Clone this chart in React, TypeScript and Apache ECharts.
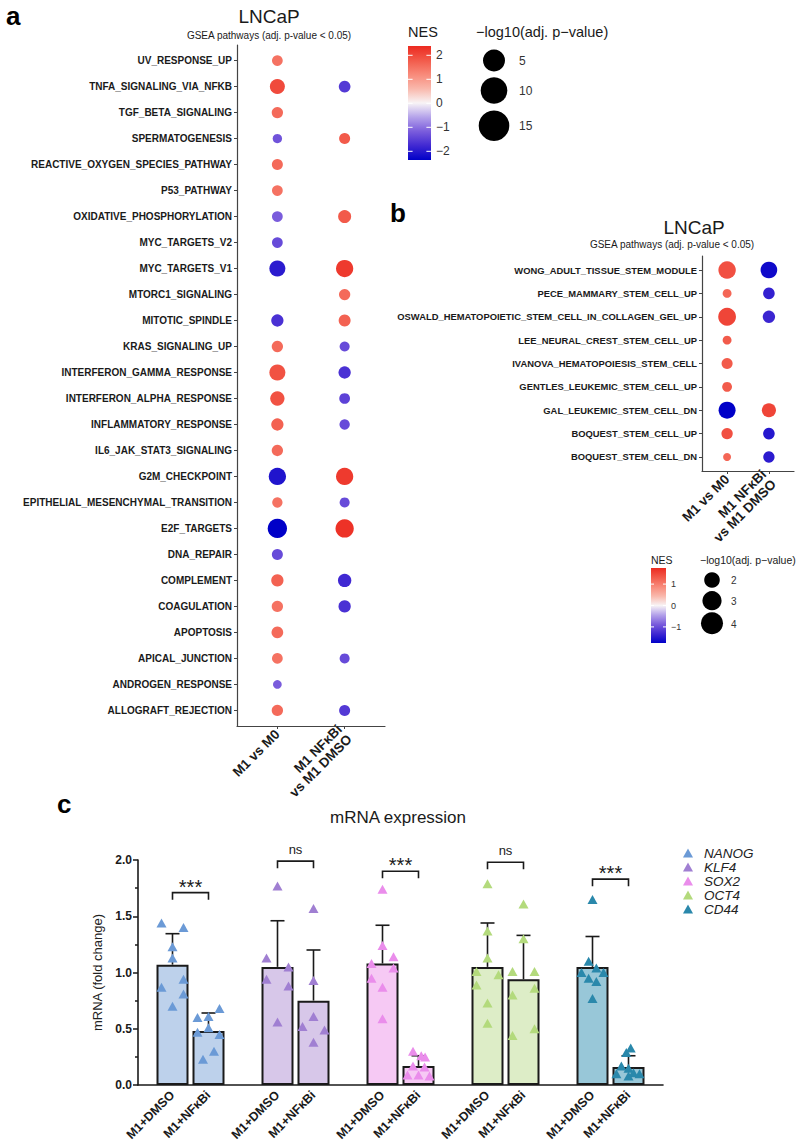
import React, { useEffect, useRef } from 'react';
import * as echarts from 'echarts';

const FONT = '"Liberation Sans", Arial, Helvetica, sans-serif';

// ---------------- Panel a data ----------------
const pathwaysA = [
  'UV_RESPONSE_UP', 'TNFA_SIGNALING_VIA_NFKB', 'TGF_BETA_SIGNALING', 'SPERMATOGENESIS',
  'REACTIVE_OXYGEN_SPECIES_PATHWAY', 'P53_PATHWAY', 'OXIDATIVE_PHOSPHORYLATION', 'MYC_TARGETS_V2',
  'MYC_TARGETS_V1', 'MTORC1_SIGNALING', 'MITOTIC_SPINDLE', 'KRAS_SIGNALING_UP',
  'INTERFERON_GAMMA_RESPONSE', 'INTERFERON_ALPHA_RESPONSE', 'INFLAMMATORY_RESPONSE', 'IL6_JAK_STAT3_SIGNALING',
  'G2M_CHECKPOINT', 'EPITHELIAL_MESENCHYMAL_TRANSITION', 'E2F_TARGETS', 'DNA_REPAIR',
  'COMPLEMENT', 'COAGULATION', 'APOPTOSIS', 'APICAL_JUNCTION', 'ANDROGEN_RESPONSE', 'ALLOGRAFT_REJECTION',
];
const comparisons = ['M1 vs M0', 'M1 NFκBi\nvs M1 DMSO'];
const nesA_M1vsM0 = [1.5, 2.0, 1.6, -1.3, 1.6, 1.5, -1.2, -1.4, -2.0, null, -1.7, 1.6, 1.9, 1.9, 1.7, 1.6, -2.1, 1.5, -2.4, -1.4, 1.7, 1.5, 1.6, 1.5, -1.2, 1.6];
const padjA_M1vsM0 = [3.5, 9.3, 4.1, 2.2, 3.8, 3.5, 3.5, 3.5, 11.1, null, 5.3, 4.1, 11.1, 8.2, 5.3, 4.1, 13.6, 3.1, 18.1, 3.8, 5.3, 4.1, 4.6, 3.5, 1.7, 4.1];
const nesA_NFkBi = [null, -1.6, null, 1.8, null, null, 1.8, null, 2.2, 1.6, 1.7, -1.4, -1.7, -1.5, -1.4, null, 2.2, -1.4, 2.3, null, -1.8, -1.7, null, -1.4, null, -1.6];
const padjA_NFkBi = [null, 4.6, null, 3.8, null, null, 6.3, null, 13.6, 4.1, 4.9, 2.8, 5.3, 3.5, 3.1, null, 13.6, 2.8, 15.8, null, 6.7, 5.3, null, 2.8, null, 3.8];

// ---------------- Panel b data ----------------
const pathwaysB = [
  'WONG_ADULT_TISSUE_STEM_MODULE', 'PECE_MAMMARY_STEM_CELL_UP', 'OSWALD_HEMATOPOIETIC_STEM_CELL_IN_COLLAGEN_GEL_UP',
  'LEE_NEURAL_CREST_STEM_CELL_UP', 'IVANOVA_HEMATOPOIESIS_STEM_CELL', 'GENTLES_LEUKEMIC_STEM_CELL_UP',
  'GAL_LEUKEMIC_STEM_CELL_DN', 'BOQUEST_STEM_CELL_UP', 'BOQUEST_STEM_CELL_DN',
];
const nesB_M1vsM0 = [1.4, 1.2, 1.5, 1.3, 1.3, 1.3, -1.75, 1.4, 1.2];
const padjB_M1vsM0 = [5.1, 1.6, 5.3, 1.6, 2.3, 1.9, 4.9, 2.4, 1.35];
const nesB_NFkBi = [-1.65, -1.4, -1.35, null, null, null, 1.5, -1.5, -1.45];
const padjB_NFkBi = [4.7, 2.5, 2.8, null, null, null, 3.5, 2.5, 2.4];

// legend ticks
const nesTicksA = [2, 1, 0, -1, -2];
const sizeTicksA = ['5', '10', '15'];
const nesTicksB = [1, 0, -1];
const sizeTicksB = ['2', '3', '4'];

// ---------------- Panel c data ----------------
const genes = ['NANOG', 'KLF4', 'SOX2', 'OCT4', 'CD44'];
const treatments = ['M1+DMSO', 'M1+NFκBi'];
const meanDMSO = [1.07, 1.05, 1.08, 1.05, 1.05];
const meanNFkBi = [0.48, 0.75, 0.17, 0.94, 0.16];
const sdDMSO = [0.275, 0.41, 0.34, 0.39, 0.27];
const sdNFkBi = [0.16, 0.45, 0.09, 0.39, 0.10];
const ptsDMSO = [
  [1.44, 1.40, 1.23, 1.13, 0.87, 0.94, 0.81, 0.70],
  [1.77, 1.13, 1.05, 0.94, 0.88, 0.56],
  [1.74, 1.24, 1.14, 1.08, 1.04, 0.95, 0.87, 0.59],
  [1.79, 1.37, 1.13, 1.01, 0.98, 0.89, 0.73, 0.55],
  [1.65, 1.10, 1.04, 1.00, 1.00, 0.95, 0.92, 0.77],
];
const ptsNFkBi = [
  [0.60, 0.61, 0.68, 0.47, 0.51, 0.45, 0.30, 0.23],
  [1.57, 0.93, 0.61, 0.52, 0.49, 0.38],
  [0.30, 0.26, 0.25, 0.17, 0.16, 0.09, 0.09, 0.08],
  [1.61, 1.30, 1.01, 1.01, 0.86, 0.80, 0.50, 0.44],
  [0.33, 0.29, 0.17, 0.15, 0.11, 0.10, 0.10, 0.08],
];
// column-scatter slot of each point (beeswarm column index)
const slotsDMSO = [
  [-1, 1, 0, 0, -1, 1, 1, 0],
  [0, -1, 1, -1, 1, 0],
  [0, 0, 1, -1, 1, -1, 0, 0],
  [0, 0, 0, -1, 1, -1, 0, 0],
  [0, -0.35, 0.35, -1, 1, -0.35, 0.35, 0],
];
const slotsNFkBi = [
  [-1, 0, 1, -1, 0, 1, 0.5, -0.5],
  [0, 0, 0, -1, 1, 0],
  [-0.5, 0.25, 0.6, -0.5, 0.55, -1, 0, 1],
  [0, 0, -1, 1, 1, -1, 1, -1],
  [0.2, -0.2, -0.65, 0, 0.45, 1, -1.1, 0],
];
const sigLabels = ['***', 'ns', '***', 'ns', '***'];
const sigHeight = [1.71, 1.99, 1.90, 1.98, 1.83];

// ---------------- styles ----------------
const COLOR_STOPS = ['#0000c8', '#4028d2', '#7a5cdc', '#b4a2ea', '#f8f4f6', '#f9b8ac', '#f88a7a', '#f25a4a', '#ec2a20'];
const geneColors = ['#6b9ad6', '#a07fd2', '#ea8deb', '#b3da7c', '#2a88ab'];
const barColors = ['#bdd1eb', '#d7c7e9', '#f6c9f4', '#ddedc7', '#98c7d8'];
const BAR_OFFSET = 18 / 105;
const SLOT = 11 / 105;
const sizeA = (v: number) => 4 + 3.6 * Math.sqrt(v);
const sizeB = (v: number) => 8.6 * Math.sqrt(v) - 2;

function dots(nes1: (number | null)[], p1: (number | null)[], nes2: (number | null)[], p2: (number | null)[]) {
  const out: number[][] = [];
  nes1.forEach((n, i) => { if (n != null) out.push([0, i, p1[i] as number, n]); });
  nes2.forEach((n, i) => { if (n != null) out.push([1, i, p2[i] as number, n]); });
  return out;
}

function txt(x: number, y: number, text: string, size: number, o: any = {}) {
  const align = o.align || 'left';
  const va = o.va || 'middle';
  return {
    type: 'text', x, y, rotation: o.rotation || 0,
    style: {
      text, fill: o.color || '#1a1a1a',
      font: `${o.style || 'normal'} ${o.weight || 'normal'} ${size}px ${FONT}`,
      textAlign: align, textVerticalAlign: va, align, verticalAlign: va,
    },
  };
}

function gradientFill() {
  const stops = COLOR_STOPS.slice().reverse().map((c, i) => ({ offset: i / (COLOR_STOPS.length - 1), color: c }));
  return new echarts.graphic.LinearGradient(0, 0, 0, 1, stops);
}

function colorbar(x: number, y: number, w: number, h: number, zeroY: number, unit: number, ticks: number[], fs: number) {
  const els: any[] = [{ type: 'rect', shape: { x, y, width: w, height: h }, style: { fill: gradientFill() } }];
  ticks.forEach((t) => {
    const ty = zeroY - t * unit;
    els.push({ type: 'line', shape: { x1: x, y1: ty, x2: x + w * 0.2, y2: ty }, style: { stroke: '#ffffff', lineWidth: 1 } });
    els.push({ type: 'line', shape: { x1: x + w * 0.8, y1: ty, x2: x + w, y2: ty }, style: { stroke: '#ffffff', lineWidth: 1 } });
    els.push(txt(x + w + 5, ty, t < 0 ? '\u2212' + Math.abs(t) : String(t), fs, { color: '#333' }));
  });
  return els;
}

function dotAxes(grid: number, names: string[], fs: number) {
  const idx = names.map((_, i) => i);
  const x = {
    type: 'value', gridIndex: grid, min: -0.6, max: 1.6, position: 'bottom',
    axisLine: { show: true, onZero: false, lineStyle: { color: '#444', width: 1.2 } },
    axisTick: { show: true, customValues: [0, 1], length: 3, lineStyle: { color: '#444' } },
    axisLabel: {
      customValues: [0, 1], rotate: 45, margin: 6, fontFamily: FONT, fontWeight: 'bold', fontSize: 13.5, color: '#1a1a1a',
      formatter: (v: number) => comparisons[Math.round(v)], lineHeight: 14,
    },
    splitLine: { show: false },
  };
  const y = {
    type: 'value', gridIndex: grid, min: -0.6, max: names.length - 0.4, inverse: true, position: 'left',
    axisLine: { show: true, onZero: false, lineStyle: { color: '#444', width: 1.2 } },
    axisTick: { show: true, customValues: idx, length: 3, lineStyle: { color: '#444' } },
    axisLabel: {
      customValues: idx, margin: 5, fontFamily: FONT, fontWeight: 'bold', fontSize: fs, color: '#1a1a1a',
      formatter: (v: number) => names[Math.round(v)],
    },
    splitLine: { show: false },
  };
  return { x, y };
}

export default function App() {
  const ref = useRef<HTMLDivElement>(null);
  useEffect(() => {
    if (!ref.current) return;
    const chart = echarts.init(ref.current, undefined, { renderer: 'svg' });
    const axA = dotAxes(0, pathwaysA, 10);
    const axB = dotAxes(1, pathwaysB, 9.4);

    const xpos = (g: number, t: number, slot = 0) => g + 0.5 + (t === 0 ? -BAR_OFFSET : BAR_OFFSET) + slot * SLOT;
    const labelPositions = genes.flatMap((_, g) => [xpos(g, 0), xpos(g, 1)]);

    const scatterC = genes.map((g, gi) => ({
      type: 'scatter', name: g, xAxisIndex: 3, yAxisIndex: 2, z: 5,
      symbol: 'triangle', symbolSize: [10, 9],
      itemStyle: { color: geneColors[gi], opacity: 1 },
      data: [
        ...ptsDMSO[gi].map((v, k) => [xpos(gi, 0, slotsDMSO[gi][k]), v]),
        ...ptsNFkBi[gi].map((v, k) => [xpos(gi, 1, slotsNFkBi[gi][k]), v]),
      ],
    }));

    const errData = genes.flatMap((_, g) => [
      [xpos(g, 0), meanDMSO[g], sdDMSO[g]],
      [xpos(g, 1), meanNFkBi[g], sdNFkBi[g]],
    ]);
    const sigData = genes.map((_, g) => [xpos(g, 0), xpos(g, 1), sigHeight[g]]);

    const option: any = {
      animation: false,
      backgroundColor: '#ffffff',
      textStyle: { fontFamily: FONT },
      grid: [
        { left: 237, top: 45, width: 148, height: 681 },
        { left: 702, top: 256, width: 92, height: 215 },
        { left: 138, top: 860, width: 525, height: 225 },
      ],
      xAxis: [
        axA.x,
        axB.x,
        { type: 'category', gridIndex: 2, data: genes, show: false, position: 'bottom' },
        {
          type: 'value', gridIndex: 2, min: 0, max: 5, position: 'bottom', offset: 0,
          axisLine: { show: true, onZero: false, lineStyle: { color: '#1a1a1a', width: 1.6 } },
          axisTick: { show: false },
          splitLine: { show: false },
          axisLabel: {
            customValues: labelPositions, rotate: 45, margin: 8, fontFamily: FONT, fontWeight: 'bold', fontSize: 12.5, color: '#1a1a1a',
            formatter: (v: number) => treatments[v % 1 < 0.5 ? 0 : 1],
          },
        },
      ],
      yAxis: [
        axA.y,
        axB.y,
        {
          type: 'value', gridIndex: 2, min: 0, max: 2, interval: 0.5, position: 'left',
          name: 'mRNA (fold change)', nameLocation: 'middle', nameGap: 34, nameRotate: 90,
          nameTextStyle: { fontFamily: FONT, fontSize: 13, color: '#222' },
          axisLine: { show: true, lineStyle: { color: '#1a1a1a', width: 1.6 } },
          axisTick: { show: true, length: 5, lineStyle: { color: '#1a1a1a', width: 1.5 } },
          minorTick: { show: true, splitNumber: 2, length: 3, lineStyle: { color: '#1a1a1a', width: 1.5 } },
          splitLine: { show: false },
          axisLabel: { fontFamily: FONT, fontWeight: 'bold', fontSize: 12, color: '#1a1a1a', margin: 6, formatter: (v: number) => v.toFixed(1) },
        },
      ],
      visualMap: [
        { type: 'continuous', show: false, seriesIndex: 0, dimension: 3, min: -2.4, max: 2.4, inRange: { color: COLOR_STOPS } },
        { type: 'continuous', show: false, seriesIndex: 1, dimension: 3, min: -1.75, max: 1.75, inRange: { color: COLOR_STOPS } },
      ],
      legend: {
        data: genes, orient: 'vertical', left: 678, top: 841, icon: 'triangle',
        itemWidth: 10, itemHeight: 9, itemGap: 0,
        textStyle: { fontFamily: FONT, fontStyle: 'italic', fontSize: 13.5, color: '#222', lineHeight: 14, padding: [0, 0, 0, 6] },
        selectedMode: false,
      },
      series: [
        {
          type: 'scatter', xAxisIndex: 0, yAxisIndex: 0,
          data: dots(nesA_M1vsM0, padjA_M1vsM0, nesA_NFkBi, padjA_NFkBi),
          symbolSize: (d: number[]) => sizeA(d[2]),
          itemStyle: { opacity: 1 },
        },
        {
          type: 'scatter', xAxisIndex: 1, yAxisIndex: 1,
          data: dots(nesB_M1vsM0, padjB_M1vsM0, nesB_NFkBi, padjB_NFkBi),
          symbolSize: (d: number[]) => sizeB(d[2]),
          itemStyle: { opacity: 1 },
        },
        {
          type: 'bar', name: treatments[0], xAxisIndex: 2, yAxisIndex: 2, barWidth: 32, barGap: '12.5%', z: 2,
          data: meanDMSO.map((v, i) => ({ value: v, itemStyle: { color: barColors[i], borderColor: '#1a1a1a', borderWidth: 2 } })),
        },
        {
          type: 'bar', name: treatments[1], xAxisIndex: 2, yAxisIndex: 2, barWidth: 32, barGap: '12.5%', z: 2,
          data: meanNFkBi.map((v, i) => ({ value: v, itemStyle: { color: barColors[i], borderColor: '#1a1a1a', borderWidth: 2 } })),
        },
        {
          type: 'custom', xAxisIndex: 3, yAxisIndex: 2, z: 4, data: errData,
          renderItem: (params: any, api: any) => {
            const x = api.value(0), m = api.value(1), s = api.value(2);
            const p0 = api.coord([x, m]);
            const p1 = api.coord([x, m + s]);
            const st = { stroke: '#1a1a1a', lineWidth: 1.6 };
            return {
              type: 'group', children: [
                { type: 'line', shape: { x1: p0[0], y1: p0[1], x2: p1[0], y2: p1[1] }, style: st },
                { type: 'line', shape: { x1: p1[0] - 7, y1: p1[1], x2: p1[0] + 7, y2: p1[1] }, style: st },
              ],
            };
          },
        },
        {
          type: 'custom', xAxisIndex: 3, yAxisIndex: 2, z: 4, data: sigData, clip: false,
          renderItem: (params: any, api: any) => {
            const a = api.coord([api.value(0), api.value(2)]);
            const b = api.coord([api.value(1), api.value(2)]);
            const lab = sigLabels[params.dataIndex];
            const star = lab === '***';
            return {
              type: 'group', children: [
                {
                  type: 'polyline',
                  shape: { points: [[a[0], a[1] + 7], [a[0], a[1]], [b[0], b[1]], [b[0], b[1] + 7]] },
                  style: { stroke: '#1a1a1a', lineWidth: 1.6, fill: 'none' },
                },
                {
                  type: 'text', x: (a[0] + b[0]) / 2, y: star ? a[1] + 4 : a[1] - 5,
                  style: {
                    text: lab, fill: '#1a1a1a', font: `normal ${star ? 20 : 13}px ${FONT}`,
                    textAlign: 'center', align: 'center', textVerticalAlign: 'bottom', verticalAlign: 'bottom',
                  },
                },
              ],
            };
          },
        },
        ...scatterC,
      ],
      graphic: [
        // panel a
        txt(6, 16, 'a', 26, { weight: 'bold', color: '#000' }),
        txt(269, 16, 'LNCaP', 19, { align: 'center' }),
        txt(269, 35, 'GSEA pathways (adj. p-value < 0.05)', 10, { align: 'center' }),
        txt(408, 32, 'NES', 14.5),
        ...colorbar(408, 46, 23, 114, 103.3, 24, nesTicksA, 12),
        txt(476, 32, '\u2212log10(adj. p\u2212value)', 14.5),
        { type: 'circle', shape: { cx: 494, cy: 60.5, r: 11 }, style: { fill: '#000' } },
        { type: 'circle', shape: { cx: 494, cy: 90.5, r: 13.3 }, style: { fill: '#000' } },
        { type: 'circle', shape: { cx: 494, cy: 125.7, r: 15.3 }, style: { fill: '#000' } },
        txt(519, 61, sizeTicksA[0], 12, { color: '#333' }),
        txt(519, 91, sizeTicksA[1], 12, { color: '#333' }),
        txt(519, 126, sizeTicksA[2], 12, { color: '#333' }),
        // panel b
        txt(390, 213, 'b', 26, { weight: 'bold', color: '#000' }),
        txt(694, 227, 'LNCaP', 19, { align: 'center' }),
        txt(672, 244, 'GSEA pathways (adj. p-value < 0.05)', 10, { align: 'center' }),
        txt(651, 560, 'NES', 10.5),
        ...colorbar(651, 568, 15, 75, 605.5, 21.4, nesTicksB, 9),
        txt(700, 560, '\u2212log10(adj. p\u2212value)', 10.5),
        { type: 'circle', shape: { cx: 712, cy: 580, r: 7.8 }, style: { fill: '#000' } },
        { type: 'circle', shape: { cx: 712, cy: 600.7, r: 9.6 }, style: { fill: '#000' } },
        { type: 'circle', shape: { cx: 712, cy: 623.3, r: 11 }, style: { fill: '#000' } },
        txt(731, 580, sizeTicksB[0], 10, { color: '#333' }),
        txt(731, 601, sizeTicksB[1], 10, { color: '#333' }),
        txt(731, 624, sizeTicksB[2], 10, { color: '#333' }),
        // panel c
        txt(57, 804, 'c', 26, { weight: 'bold', color: '#000' }),
        txt(398, 817, 'mRNA expression', 17, { align: 'center' }),
      ],
    };
    chart.setOption(option);
    return () => chart.dispose();
  }, []);
  return <div ref={ref} style={{ position: 'absolute', left: 0, top: 0, width: 800, height: 1147, background: '#fff' }} />;
}
